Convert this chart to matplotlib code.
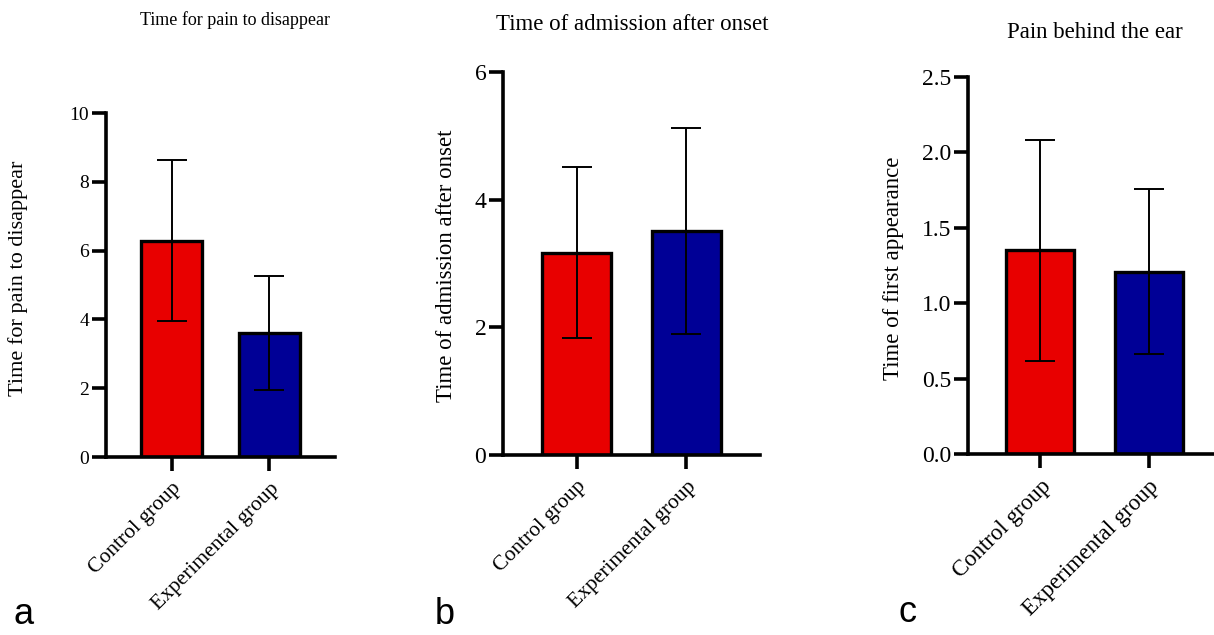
import matplotlib.pyplot as plt

plt.rcParams['font.family'] = ['Liberation Serif', 'DejaVu Serif']

groups = ['Control group', 'Experimental group']
bar_colors = ['#E80000', '#000096']

# panel a: time for pain to disappear
pain_mean = [6.29, 3.61]
pain_sd = [2.33, 1.66]
# panel b: time of admission after onset
admit_mean = [3.17, 3.51]
admit_sd = [1.34, 1.62]
# panel c: pain behind the ear
ear_mean = [1.35, 1.21]
ear_sd = [0.73, 0.55]

W, H = 1214, 635
fig = plt.figure(figsize=(W / 100, H / 100), dpi=100)


def px_axes(left, right, bottom, top):
    return fig.add_axes([left / W, 1 - bottom / H, (right - left) / W, (bottom - top) / H])


panels = [
    dict(box=(106, 335, 457, 113), mean=pain_mean, sd=pain_sd, ylim=(0, 10),
         ticks=[0, 2, 4, 6, 8, 10], fmt='{:g}', tick_fs=14, xlab_fs=15.5,
         title='Time for pain to disappear', title_xy=(235, 20), title_fs=13,
         ylabel='Time for pain to disappear', ylabel_xy=(18, 278), ylabel_fs=16,
         letter='a', letter_xy=(13, 614)),
    dict(box=(503, 760, 455, 72), mean=admit_mean, sd=admit_sd, ylim=(0, 6),
         ticks=[0, 2, 4, 6], fmt='{:g}', tick_fs=17, xlab_fs=15.5,
         title='Time of admission after onset', title_xy=(632, 25), title_fs=16.5,
         ylabel='Time of admission after onset', ylabel_xy=(447, 266), ylabel_fs=16.5,
         letter='b', letter_xy=(435, 614)),
    dict(box=(968, 1221, 454, 77), mean=ear_mean, sd=ear_sd, ylim=(0, 2.5),
         ticks=[0, 0.5, 1.0, 1.5, 2.0, 2.5], fmt='{:.1f}', tick_fs=17, xlab_fs=16.5,
         title='Pain behind the ear', title_xy=(1095, 33), title_fs=16.5,
         ylabel='Time of first appearance', ylabel_xy=(894, 268), ylabel_fs=16.5,
         letter='c', letter_xy=(899, 613)),
]

for p in panels:
    ax = px_axes(*p['box'])
    x = range(len(groups))
    ax.bar(x, p['mean'], width=0.63, color=bar_colors, edgecolor='black',
           linewidth=2.4, zorder=2)
    ax.errorbar(x, p['mean'], yerr=p['sd'], fmt='none', ecolor='black',
                elinewidth=1.4, capsize=11, capthick=1.4, zorder=3)
    ax.set_xlim(-0.67, 1.67)
    ax.set_ylim(*p['ylim'])
    ax.set_yticks(p['ticks'])
    ax.set_yticklabels([p['fmt'].format(t) for t in p['ticks']], fontsize=p['tick_fs'])
    ax.set_xticks(list(x))
    ax.set_xticklabels(groups, fontsize=p['xlab_fs'], rotation=45, ha='right',
                       rotation_mode='anchor')
    for s in ['top', 'right']:
        ax.spines[s].set_visible(False)
    for s in ['left', 'bottom']:
        ax.spines[s].set_linewidth(2.6)
    ax.tick_params(axis='both', length=10, width=2.6, pad=2)
    ax.tick_params(axis='x', pad=6)
    fig.text(p['title_xy'][0] / W, 1 - p['title_xy'][1] / H, p['title'],
             fontsize=p['title_fs'], ha='center', va='center')
    fig.text(p['ylabel_xy'][0] / W, 1 - p['ylabel_xy'][1] / H, p['ylabel'],
             fontsize=p['ylabel_fs'], rotation=90, ha='center', va='center')
    fig.text(p['letter_xy'][0] / W, 1 - p['letter_xy'][1] / H, p['letter'],
             fontsize=26, family='Liberation Sans', ha='left', va='center')

fig.savefig('out.png', dpi=100)
